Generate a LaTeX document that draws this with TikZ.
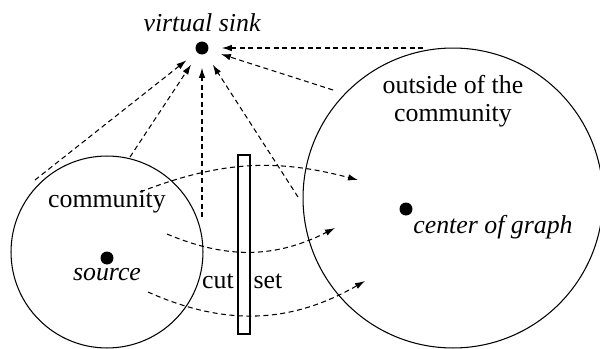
\documentclass[tikz,border=0pt]{standalone}
\usepackage{fontspec}
\setmainfont{LiberationSerif}[Extension=.ttf, UprightFont=*-Regular, ItalicFont=*-Italic, BoldFont=*-Bold, BoldItalicFont=*-BoldItalic]
\usetikzlibrary{arrows.meta}
\begin{document}
\begin{tikzpicture}[x=0.02cm, y=-0.02cm]
           \tikzstyle{txt} = [font=\fontsize{14.7}{16}\selectfont, inner sep=0pt]
           \tikzstyle{dot} = [circle, fill=black, inner sep=0pt, minimum size=0.26cm]
           \tikzstyle{region} = [circle, draw=black, line width=0.6pt, minimum size=#1]
           \tikzstyle{arrow} = [line width=0.6pt, dash pattern=on 0.1cm off 0.07cm, -{Latex[length=0.2cm,width=0.13cm]}]
           \tikzstyle{tosink} = [arrow, shorten >=0.26cm]

            \useasboundingbox (0,0) rectangle (600,349);

            \node (comm) [region=3.84cm] at (107,252) {};
            \node (outside) [region=6cm] at (453,198) {};
            \node (cutset) [rectangle, draw=black, line width=0.6pt, minimum width=0.24cm, minimum height=3.58cm, inner sep=0pt] at (244,244.5) {};

            \node (sink) [dot] at (202,48) {};
            \node (sinklbl) [txt] at (202,23) {\itshape virtual sink};
            \node (src) [dot] at (107,258) {};
            \node (srclbl) [txt] at (107,275) {\itshape source};
            \node (commlbl) [txt] at (107,202) {community};
            \node (outlbl) [txt, align=center] at (453,101) {outside of the\\community};
            \node (center) [dot] at (406,209) {};
            \node (centerlbl) [txt] at (493,227) {\itshape center of graph};
            \node (cut) [txt] at (218,281) {cut};
            \node (set) [txt] at (268,281) {set};

            % free ends of the dashed lines
            \coordinate (f1) at (35,180);
            \coordinate (f2) at (130,157);
            \coordinate (f3) at (202,217);
            \coordinate (f4) at (298,197);
            \coordinate (f5) at (333,90);
            \coordinate (f6) at (423,48);
            \coordinate (a1) at (140,192);
            \coordinate (a2) at (358,180);
            \coordinate (b1) at (167,234);
            \coordinate (b2) at (335,228);
            \coordinate (c1) at (148,292);
            \coordinate (c2) at (365,281);

            \draw[tosink] (f1) -- (sink);
            \draw[tosink] (f2) -- (sink);
            \draw[tosink] (f3) -- (sink);
            \draw[tosink] (f4) -- (sink);
            \draw[tosink] (f5) -- (sink);
            \draw[tosink] (f6) -- (sink);
            \draw[arrow] (a1) to[bend left=18] (a2);
            \draw[arrow] (b1) to[bend right=25] (b2);
            \draw[arrow] (c1) to[bend right=27] (c2);
       \end{tikzpicture}
\end{document}
